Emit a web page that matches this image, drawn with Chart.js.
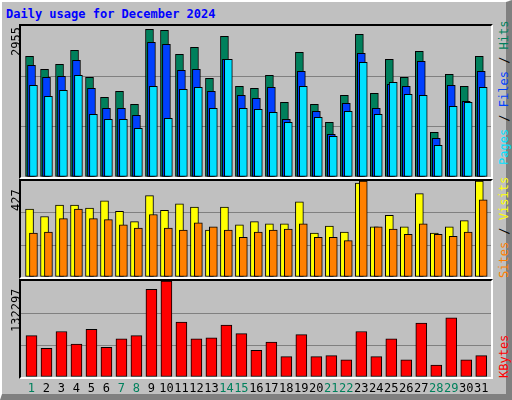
<!DOCTYPE html>
<html><head><meta charset="utf-8">
<script src="https://cdn.jsdelivr.net/npm/chart.js@4/dist/chart.umd.min.js"></script>
<style>
html,body{margin:0;padding:0;width:512px;height:400px;overflow:hidden;background:#c0c0c0;font-family:"DejaVu Sans Mono",monospace}
#frame{position:absolute;left:0;top:0;width:504px;height:392px;border-top:2px solid #fff;border-left:2px solid #fff;border-right:6px solid #808080;border-bottom:6px solid #808080;box-sizing:content-box;}
#title{position:absolute;left:6px;top:7px;color:#0000ff;font-weight:bold;font-size:12px}
.box{position:absolute;border-top:2px solid #000;border-left:2px solid #000;border-right:2px solid #fff;border-bottom:2px solid #fff;box-sizing:border-box}
.box canvas{position:absolute;left:0;top:0}
.rot{position:absolute;transform-origin:left top;transform:rotate(-90deg);white-space:nowrap;font-size:12px}
.xl{position:absolute;top:381px;font-size:12px;transform:translateX(-50%)}
</style></head><body>
<div id="frame"></div>
<div id="title">Daily usage for December 2024</div>
<div class="box" style="left:19px;top:24px;width:474px;height:155px"><canvas id="c1"></canvas></div>
<div class="box" style="left:19px;top:179px;width:474px;height:100px"><canvas id="c2"></canvas></div>
<div class="box" style="left:19px;top:279px;width:474px;height:100px"><canvas id="c3"></canvas></div>
<div class="rot" style="left:9px;top:56px">2955</div>
<div class="rot" style="left:9px;top:211px">427</div>
<div class="rot" style="left:9px;top:332px">132297</div>
<div class="rot" style="left:497px;top:165px"><span style="color:#00e0ff">Pages</span><span style="color:#000"> / </span><span style="color:#0040ff">Files</span><span style="color:#000"> / </span><span style="color:#00805c">Hits</span></div>
<div class="rot" style="left:497px;top:278px"><span style="color:#ff8000">Sites</span><span style="color:#000"> / </span><span style="color:#ffff00">Visits</span></div>
<div class="rot" style="left:497px;top:378px"><span style="color:#ff0000">KBytes</span></div>
<div id="xlabels"></div>
<script>
const days = Array.from({length:31},(_,i)=>String(i+1));
const weekend = [1,7,8,14,15,21,22,28,29];
const hits  = [2362,2108,2206,2480,1951,1560,1677,1423,2890,2871,2401,2538,1932,2753,1775,1736,1990,1462,2440,1423,1070,1599,2793,1638,2303,1951,2460,875,2010,1775,2362];
const files = [2186,1951,1971,2284,1736,1344,1344,1207,2636,2597,2088,2108,1677,2303,1599,1540,1755,1129,2069,1286,836,1442,2421,1344,1814,1775,2264,757,1795,1481,2069];
const pages = [1795,1579,1697,1990,1227,1129,1129,953,1775,1149,1716,1755,1344,2303,1344,1325,1266,1070,1775,1168,797,1286,2245,1227,1853,1618,1599,620,1384,1462,1755];
const sites = [302,269,320,320,306,339,292,246,362,297,325,311,209,311,232,246,237,237,334,195,227,200,418,223,274,223,371,195,223,251,427];
const visits= [195,200,260,302,260,255,232,218,278,218,209,241,223,209,176,200,209,213,237,176,176,162,427,223,213,190,237,190,181,200,343];
const kbytes= [56970,39590,62764,45383,65661,41038,52625,56970,120700,132297,75800,52625,54074,71454,59867,36693,48280,28002,58419,28002,29451,23657,62764,28002,52625,23657,74351,16415,81593,23657,29451];
const maxHits=2955, maxSites=427, maxKB=132297;

function pts(arr,off){return arr.map((v,i)=>({x:i+1+off,y:v}));}
function ds(arr,off,color,w,order){return {data:pts(arr,off),backgroundColor:color,borderColor:'#000',borderWidth:1,borderSkipped:false,barThickness:w,grouped:false,order:order};}
function mk(id,w,h,datasets,max){
  const c=document.getElementById(id);c.width=w;c.height=h;c.style.width=w+'px';c.style.height=h+'px';
  return new Chart(c,{type:'bar',data:{datasets},options:{responsive:false,animation:false,
    layout:{padding:0},
    plugins:{legend:{display:false},tooltip:{enabled:false}},
    scales:{x:{type:'linear',min:0.3,max:31.65,offset:false,display:false},
      y:{min:0,max:max,display:true,border:{display:false},
        ticks:{display:false,stepSize:max/3},
        grid:{drawTicks:false,color:(ctx)=>(ctx.index===1||ctx.index===2)?'#808080':'rgba(0,0,0,0)',lineWidth:1}}}}});
}
mk('c1',470,151,[ds(hits,-0.13,'#00805c',8,3),ds(files,0.0,'#0040ff',8,2),ds(pages,0.13,'#00e0ff',8,1)],maxHits);
mk('c2',470,96,[ds(sites,-0.13,'#ffff00',8,2),ds(visits,0.13,'#ff8000',8,1)],maxSites);
const ch3=mk('c3',470,96,[ds(kbytes,0,'#ff0000',11,1)],maxKB);
const xs=ch3.scales.x, box=document.getElementById('xlabels');
days.forEach((d)=>{const s=document.createElement('div');s.className='xl';s.textContent=d;
  s.style.left=(21+xs.getPixelForValue(+d))+'px';
  s.style.color=weekend.includes(+d)?'#00805c':'#000';box.appendChild(s);});
</script>
</body></html>
